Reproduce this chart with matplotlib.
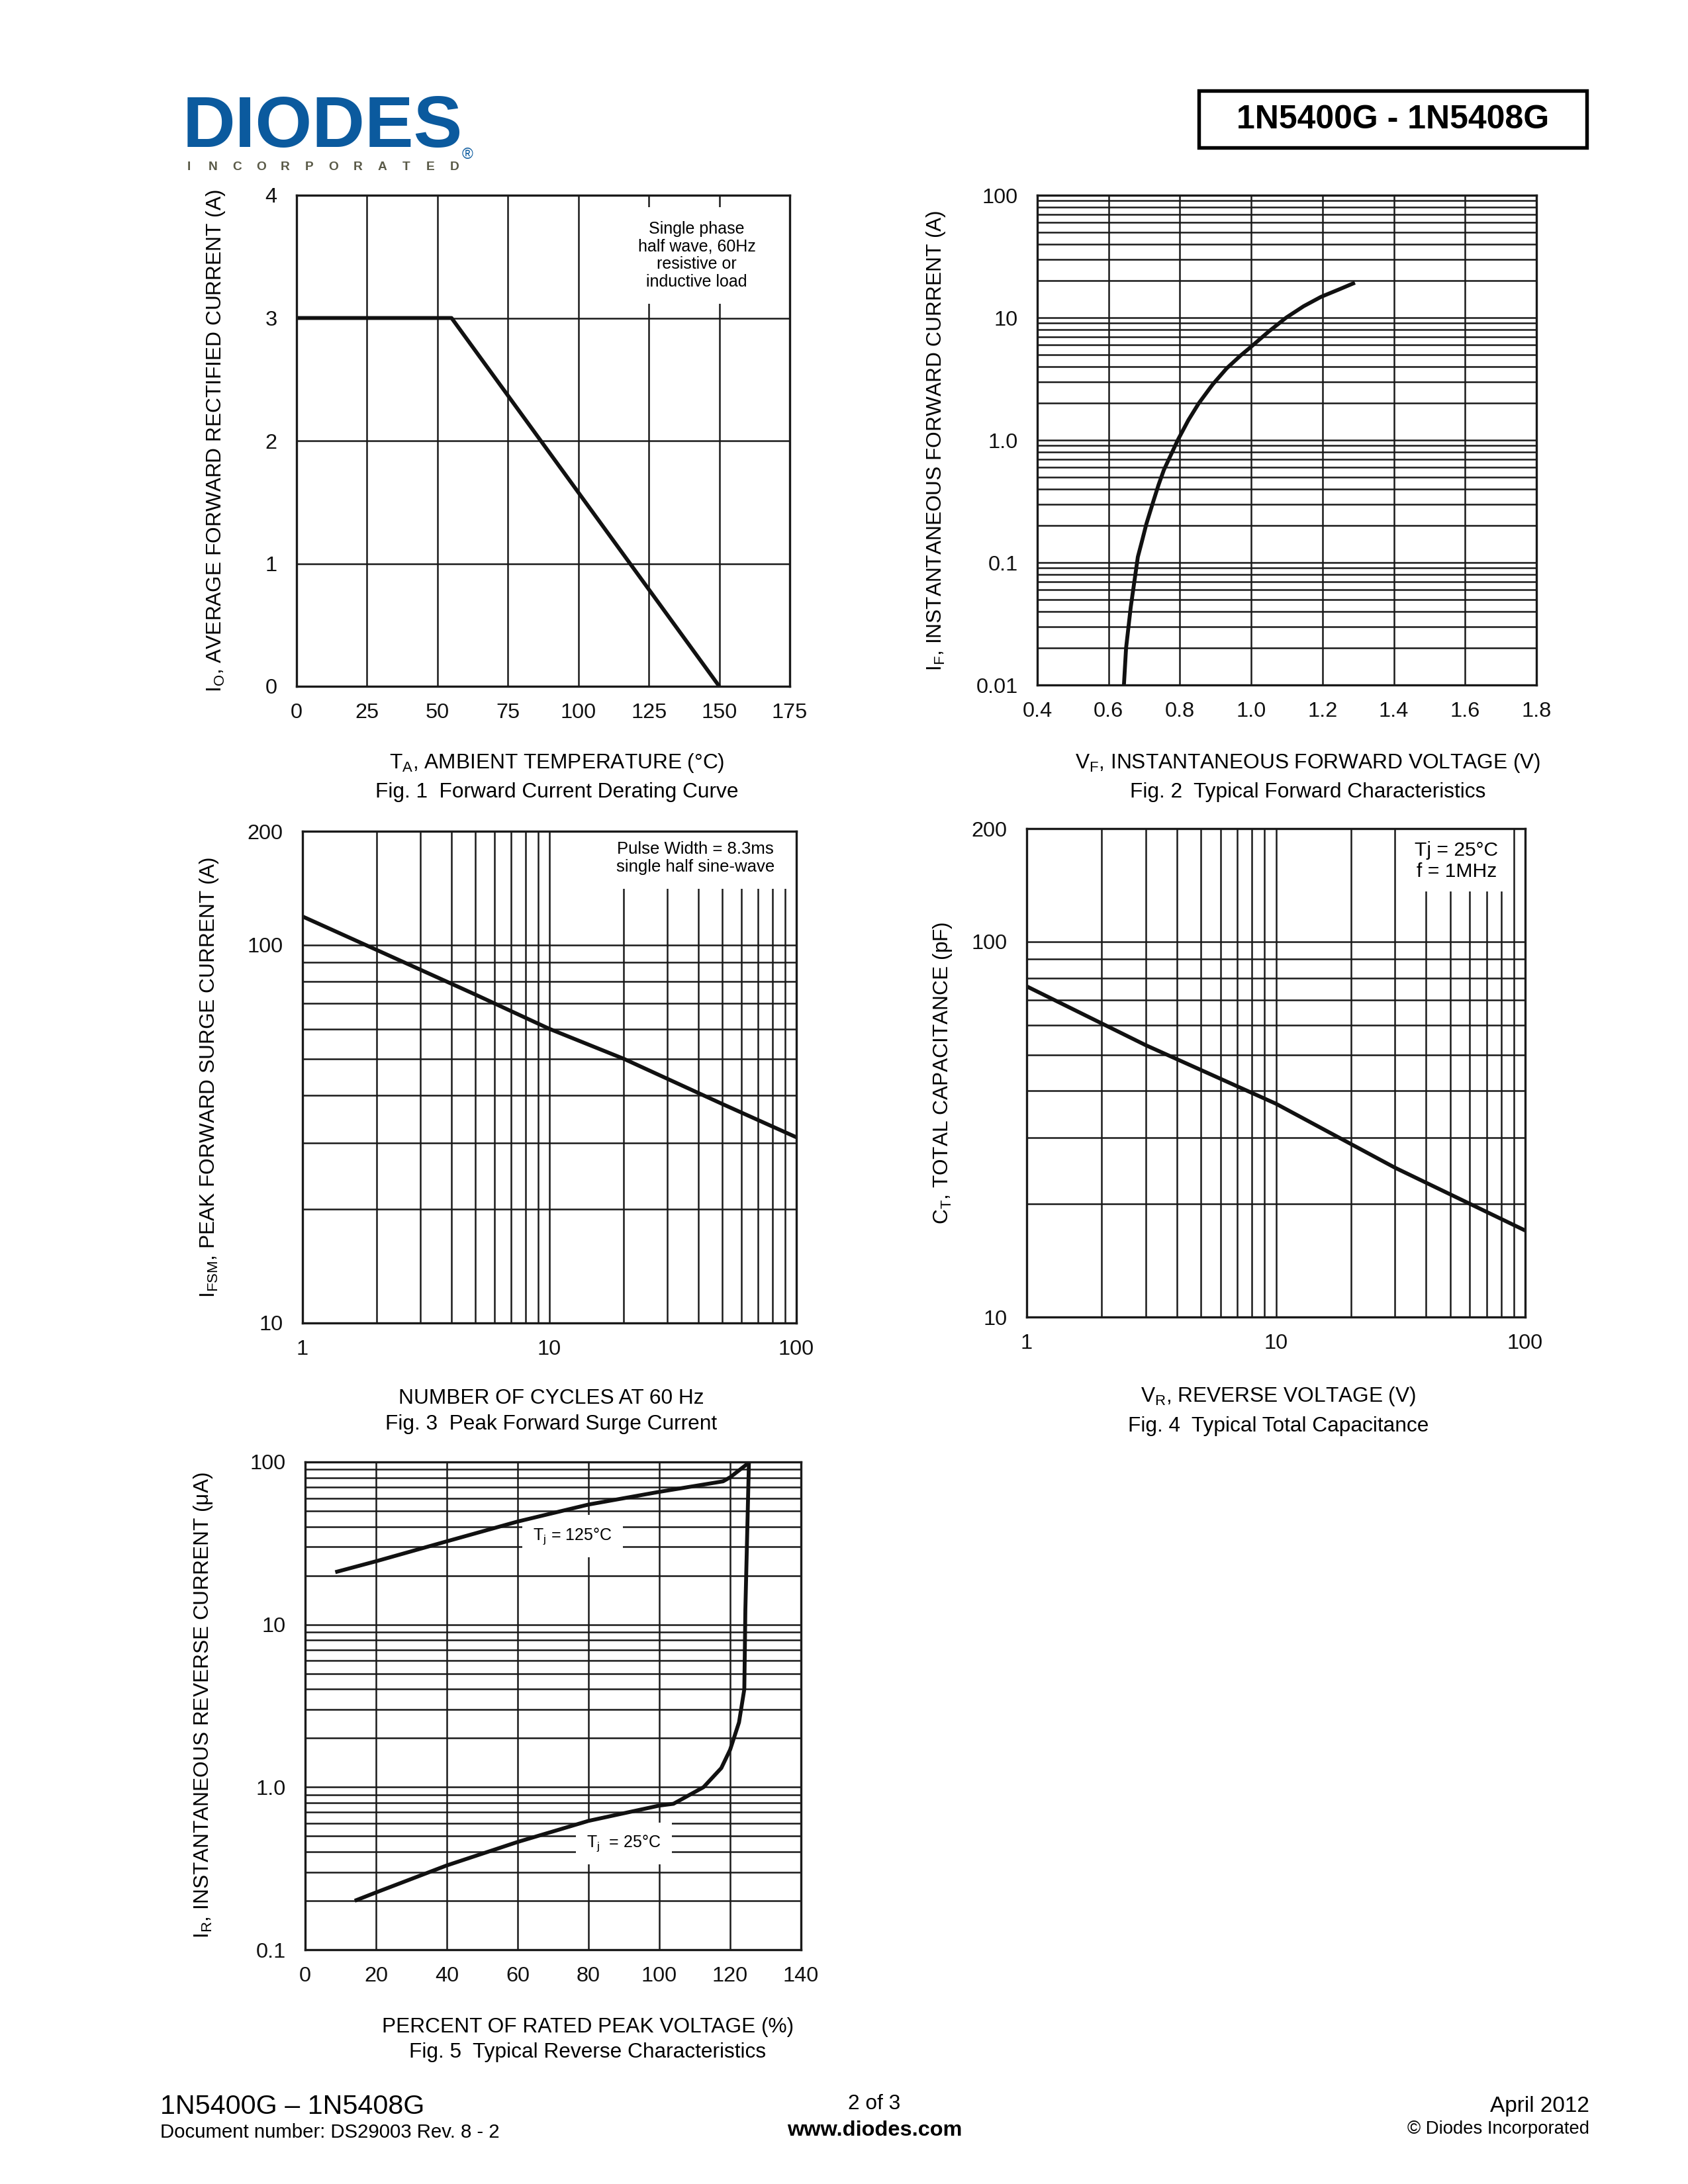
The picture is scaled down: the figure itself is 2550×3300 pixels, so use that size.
import numpy as np
import matplotlib
matplotlib.use("Agg")
import matplotlib.pyplot as plt
from matplotlib.patches import Rectangle
from matplotlib.ticker import LogLocator, NullFormatter

plt.rcParams["font.family"] = ["Liberation Sans", "DejaVu Sans"]
plt.rcParams["mathtext.default"] = "regular"

# Fig. 1 derating curve
temp_c = [0, 55, 150]
io_amp = [3.0, 3.0, 0.0]

# Fig. 2 forward characteristics
vf_volt = [0.643, 0.649, 0.662, 0.682, 0.694, 0.706, 0.726, 0.740, 0.755, 0.794,
           0.824, 0.853, 0.892, 0.931, 0.970, 1.0, 1.049, 1.098, 1.147, 1.196, 1.244, 1.291]
if_amp = [0.01, 0.02, 0.043, 0.111, 0.151, 0.207, 0.32, 0.43, 0.57, 1.0,
          1.46, 2.0, 2.85, 3.85, 4.9, 5.8, 7.7, 10.0, 12.4, 14.8, 16.9, 19.3]

# Fig. 3 surge current
cycles = [1, 2, 5, 10, 20, 50, 100]
ifsm_amp = [119, 97, 74, 60, 50, 38, 31]

# Fig. 4 capacitance
vr_volt = [1, 3, 10, 30, 100]
ct_pf = [76, 53, 37, 25, 17]

# Fig. 5 reverse characteristics
pct_125 = [8.5, 20, 40, 60, 80, 100, 118, 120, 125.3]
ir_125 = [21, 24.5, 32.5, 43, 54.7, 65.5, 76, 80.5, 99]
pct_25 = [14, 20, 40, 60, 80, 100, 104, 112.5, 117.5, 120, 122.5, 124.0, 124.3, 125.3]
ir_25 = [0.2, 0.225, 0.33, 0.46, 0.62, 0.77, 0.79, 1.0, 1.31, 1.7, 2.5, 4.0, 12.4, 99]

W, H = 2550, 3300
fig = plt.figure(figsize=(8.5, 11), dpi=300)

GRID = dict(color="#1a1a1a", linewidth=0.6)
CURVE = dict(color="#111111", linewidth=1.4, solid_capstyle="butt", solid_joinstyle="round", zorder=5)
LAB = 7.6
TICK = 7.8


def place(l, t, r, b):
    return fig.add_axes([l / W, 1 - b / H, (r - l) / W, (b - t) / H])


def ptext(x, y, s, **kw):
    fig.text(x / W, 1 - y / H, s, **kw)


def style(ax):
    ax.set_axisbelow(True)
    ax.tick_params(which="both", length=0, labelsize=TICK, colors="#111111")
    ax.tick_params(axis="x", pad=6)
    ax.tick_params(axis="y", pad=7)
    for s in ax.spines.values():
        s.set_linewidth(0.8)
        s.set_color("#1a1a1a")
        s.set_zorder(6)


def note(ax, x, y, s, size=6.0, pad=5):
    ax.text(x, y, s, ha="center", va="center", fontsize=size, linespacing=1.15, zorder=3,
            bbox=dict(facecolor="white", edgecolor="none", pad=pad))


# ---- header
ptext(276, 222, "DIODES", fontsize=26.5, fontweight="bold", color="#0B5A9E", va="baseline")
for i, ch in enumerate("INCORPORATED"):
    ptext(285 + i * 36.5, 257, ch, fontsize=4.6, fontweight="bold", color="#5A5A48", ha="center", va="baseline")
ptext(706, 240, "®", fontsize=5.5, color="#0B5A9E", ha="center", va="baseline")
fig.patches.append(Rectangle((1811 / W, 1 - 223 / H), (2397 - 1811) / W, (223 - 137) / H,
                             transform=fig.transFigure, fill=False, linewidth=1.3, edgecolor="black"))
ptext(2104, 181, "1N5400G - 1N5408G", fontsize=12.0, fontweight="bold", ha="center", va="center")

# ---- Fig. 1
ax1 = place(448, 295, 1193, 1037)
ax1.plot(temp_c, io_amp, **CURVE)
ax1.set_xlim(0, 175)
ax1.set_ylim(0, 4)
ax1.set_xticks(np.arange(0, 176, 25))
ax1.set_yticks([0, 1, 2, 3, 4])
ax1.grid(True, **GRID)
style(ax1)
note(ax1, 142, 3.51, "Single phase\nhalf wave, 60Hz\nresistive or\ninductive load")
ptext(326, 666, "I$_O$, AVERAGE FORWARD RECTIFIED CURRENT (A)", fontsize=LAB, rotation=90, ha="center", va="center")
ptext(841, 1153, "T$_A$, AMBIENT TEMPERATURE (°C)", fontsize=LAB, ha="center", va="center")
ptext(841, 1197, "Fig. 1  Forward Current Derating Curve", fontsize=LAB, ha="center", va="center")

# ---- Fig. 2
ax2 = place(1567, 295, 2321, 1035)
ax2.plot(vf_volt, if_amp, **CURVE)
ax2.set_yscale("log")
ax2.set_xlim(0.4, 1.8)
ax2.set_ylim(0.01, 100)
ax2.set_xticks(np.arange(0.4, 1.81, 0.2))
ax2.set_xticklabels(["0.4", "0.6", "0.8", "1.0", "1.2", "1.4", "1.6", "1.8"])
ax2.set_yticks([0.01, 0.1, 1, 10, 100])
ax2.set_yticklabels(["0.01", "0.1", "1.0", "10", "100"])
ax2.yaxis.set_minor_locator(LogLocator(base=10, subs=np.arange(2, 10)))
ax2.yaxis.set_minor_formatter(NullFormatter())
ax2.grid(True, which="both", axis="y", **GRID)
ax2.grid(True, which="major", axis="x", **GRID)
style(ax2)
ptext(1414, 666, "I$_F$, INSTANTANEOUS FORWARD CURRENT (A)", fontsize=LAB, rotation=90, ha="center", va="center")
ptext(1976, 1153, "V$_F$, INSTANTANEOUS FORWARD VOLTAGE (V)", fontsize=LAB, ha="center", va="center")
ptext(1976, 1197, "Fig. 2  Typical Forward Characteristics", fontsize=LAB, ha="center", va="center")

# ---- Fig. 3
ax3 = place(457, 1256, 1203, 1999)
ax3.plot(cycles, ifsm_amp, **CURVE)
ax3.set_xscale("log")
ax3.set_yscale("log")
ax3.set_xlim(1, 100)
ax3.set_ylim(10, 200)
ax3.set_xticks([1, 10, 100])
ax3.set_xticklabels(["1", "10", "100"])
ax3.set_yticks([10, 100, 200])
ax3.set_yticklabels(["10", "100", "200"])
for a in (ax3.xaxis, ax3.yaxis):
    a.set_minor_locator(LogLocator(base=10, subs=np.arange(2, 10)))
    a.set_minor_formatter(NullFormatter())
ax3.grid(True, which="both", **GRID)
style(ax3)
note(ax3, 39, 170, "Pulse Width = 8.3ms\nsingle half sine-wave", size=6.2)
ptext(316, 1628, "I$_{FSM}$, PEAK FORWARD SURGE CURRENT (A)", fontsize=LAB, rotation=90, ha="center", va="center")
ptext(833, 2113, "NUMBER OF CYCLES AT 60 Hz", fontsize=LAB, ha="center", va="center")
ptext(833, 2152, "Fig. 3  Peak Forward Surge Current", fontsize=LAB, ha="center", va="center")

# ---- Fig. 4
ax4 = place(1551, 1252, 2304, 1990)
ax4.plot(vr_volt, ct_pf, **CURVE)
ax4.set_xscale("log")
ax4.set_yscale("log")
ax4.set_xlim(1, 100)
ax4.set_ylim(10, 200)
ax4.set_xticks([1, 10, 100])
ax4.set_xticklabels(["1", "10", "100"])
ax4.set_yticks([10, 100, 200])
ax4.set_yticklabels(["10", "100", "200"])
for a in (ax4.xaxis, ax4.yaxis):
    a.set_minor_locator(LogLocator(base=10, subs=np.arange(2, 10)))
    a.set_minor_formatter(NullFormatter())
ax4.grid(True, which="both", **GRID)
style(ax4)
note(ax4, 53, 164, "Tj = 25°C\nf = 1MHz", size=7.2, pad=4)
ptext(1424, 1621, "C$_T$, TOTAL CAPACITANCE (pF)", fontsize=LAB, rotation=90, ha="center", va="center")
ptext(1931, 2110, "V$_R$, REVERSE VOLTAGE (V)", fontsize=LAB, ha="center", va="center")
ptext(1931, 2155, "Fig. 4  Typical Total Capacitance", fontsize=LAB, ha="center", va="center")

# ---- Fig. 5
ax5 = place(461, 2209, 1210, 2946)
ax5.plot(pct_125, ir_125, **CURVE)
ax5.plot(pct_25, ir_25, **CURVE)
ax5.set_yscale("log")
ax5.set_xlim(0, 140)
ax5.set_ylim(0.1, 100)
ax5.set_xticks(np.arange(0, 141, 20))
ax5.set_yticks([0.1, 1, 10, 100])
ax5.set_yticklabels(["0.1", "1.0", "10", "100"])
ax5.yaxis.set_minor_locator(LogLocator(base=10, subs=np.arange(2, 10)))
ax5.yaxis.set_minor_formatter(NullFormatter())
ax5.grid(True, which="both", axis="y", **GRID)
ax5.grid(True, which="major", axis="x", **GRID)
style(ax5)
note(ax5, 75.5, 35.0, "T$_j$ = 125°C", size=6.0, pad=4)
note(ax5, 90, 0.45, "T$_j$  = 25°C", size=6.0, pad=4)
ptext(307, 2577, "I$_R$, INSTANTANEOUS REVERSE CURRENT (μA)", fontsize=LAB, rotation=90, ha="center", va="center")
ptext(888, 3063, "PERCENT OF RATED PEAK VOLTAGE (%)", fontsize=LAB, ha="center", va="center")
ptext(888, 3101, "Fig. 5  Typical Reverse Characteristics", fontsize=LAB, ha="center", va="center")

# ---- footer
ptext(242, 3183, "1N5400G – 1N5408G", fontsize=9.9, va="center")
ptext(242, 3222, "Document number: DS29003 Rev. 8 - 2", fontsize=7.05, va="center")
ptext(1321, 3179, "2 of 3", fontsize=7.6, ha="center", va="center")
ptext(1321, 3219, "www.diodes.com", fontsize=7.8, fontweight="bold", ha="center", va="center")
ptext(2401, 3183, "April 2012", fontsize=8.0, ha="right", va="center")
ptext(2401, 3217, "© Diodes Incorporated", fontsize=6.6, ha="right", va="center")

fig.savefig("out.png", dpi=300, facecolor="white")
